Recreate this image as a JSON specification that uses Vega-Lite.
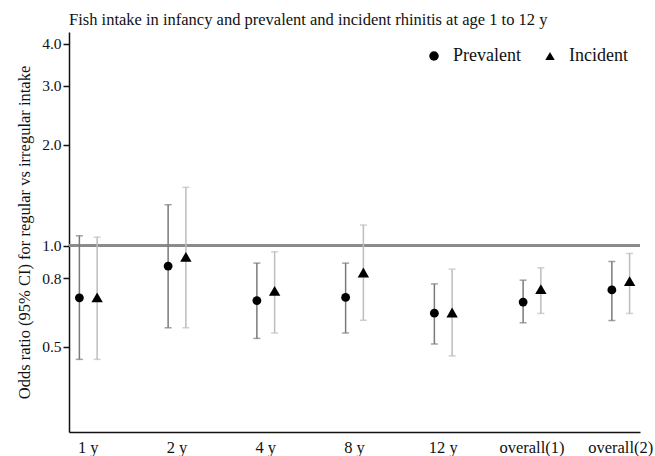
{
  "$schema": "https://vega.github.io/schema/vega-lite/v6.json",
  "width": 571,
  "height": 400,
  "autosize": {"type": "none"},
  "padding": {"left": 69, "top": 32, "right": 15, "bottom": 24},
  "title": {
    "text": "Fish intake in infancy and prevalent and incident rhinitis at age 1 to 12 y",
    "anchor": "start",
    "frame": "group",
    "font": "Liberation Serif",
    "fontSize": 16.5,
    "fontWeight": "normal",
    "color": "#111",
    "offset": 4
  },
  "config": {
    "view": {"stroke": null},
    "font": "Liberation Serif",
    "axis": {
      "labelFont": "Liberation Serif",
      "titleFont": "Liberation Serif",
      "labelColor": "#111",
      "titleColor": "#111",
      "domainColor": "#111",
      "tickColor": "#111",
      "grid": false
    }
  },
  "data": {
    "values": [
      {"age": "1 y", "series": "Prevalent", "or": 0.700, "lo": 0.459, "hi": 1.071},
      {"age": "1 y", "series": "Incident", "or": 0.702, "lo": 0.459, "hi": 1.061},
      {"age": "2 y", "series": "Prevalent", "or": 0.870, "lo": 0.570, "hi": 1.325},
      {"age": "2 y", "series": "Incident", "or": 0.927, "lo": 0.570, "hi": 1.493},
      {"age": "4 y", "series": "Prevalent", "or": 0.687, "lo": 0.530, "hi": 0.888},
      {"age": "4 y", "series": "Incident", "or": 0.734, "lo": 0.550, "hi": 0.960},
      {"age": "8 y", "series": "Prevalent", "or": 0.702, "lo": 0.550, "hi": 0.888},
      {"age": "8 y", "series": "Incident", "or": 0.833, "lo": 0.600, "hi": 1.153},
      {"age": "12 y", "series": "Prevalent", "or": 0.630, "lo": 0.510, "hi": 0.770},
      {"age": "12 y", "series": "Incident", "or": 0.633, "lo": 0.470, "hi": 0.852},
      {"age": "overall(1)", "series": "Prevalent", "or": 0.680, "lo": 0.590, "hi": 0.790},
      {"age": "overall(1)", "series": "Incident", "or": 0.743, "lo": 0.629, "hi": 0.860},
      {"age": "overall(2)", "series": "Prevalent", "or": 0.739, "lo": 0.599, "hi": 0.898},
      {"age": "overall(2)", "series": "Incident", "or": 0.785, "lo": 0.629, "hi": 0.949}
    ]
  },
  "encoding": {
    "x": {
      "field": "age",
      "type": "nominal",
      "sort": ["1 y", "2 y", "4 y", "8 y", "12 y", "overall(1)", "overall(2)"],
      "scale": {"paddingInner": 0.6, "paddingOuter": 0.017},
      "axis": {
        "title": null,
        "ticks": false,
        "labelAngle": 0,
        "labelFontSize": 16.5,
        "labelPadding": 7,
        "domainWidth": 1.5
      }
    },
    "xOffset": {
      "field": "series",
      "type": "nominal",
      "sort": ["Prevalent", "Incident"],
      "scale": {"domain": ["Prevalent", "Incident"], "paddingInner": 0, "paddingOuter": 0}
    }
  },
  "layer": [
    {
      "mark": {"type": "rule", "color": "#8a8a8a", "strokeWidth": 2},
      "encoding": {
        "x": null,
        "xOffset": null,
        "y": {"datum": 1, "type": "quantitative"}
      }
    },
    {
      "mark": {"type": "rule", "strokeWidth": 1.5},
      "encoding": {
        "y": {
          "field": "lo",
          "type": "quantitative",
          "scale": {"type": "log", "domain": [0.279, 4.33], "nice": false},
          "axis": {
            "title": "Odds ratio (95% CI) for regular vs irregular intake",
            "titleFontSize": 16.5,
            "titleFontWeight": "normal",
            "titlePadding": 9,
            "values": [0.5, 0.8, 1, 2, 3, 4],
            "format": ".1f",
            "labelFontSize": 15.5,
            "tickSize": 6,
            "tickWidth": 1.5,
            "domainWidth": 1.5,
            "labelPadding": 2
          }
        },
        "y2": {"field": "hi"},
        "color": {"condition": {"test": "datum.series === 'Prevalent'", "value": "#7a7a7a"}, "value": "#bdbdbd"}
      }
    },
    {
      "mark": {"type": "tick", "orient": "horizontal", "size": 7, "thickness": 1.5},
      "encoding": {
        "y": {"field": "lo", "type": "quantitative"},
        "color": {"condition": {"test": "datum.series === 'Prevalent'", "value": "#7a7a7a"}, "value": "#bdbdbd"}
      }
    },
    {
      "mark": {"type": "tick", "orient": "horizontal", "size": 7, "thickness": 1.5},
      "encoding": {
        "y": {"field": "hi", "type": "quantitative"},
        "color": {"condition": {"test": "datum.series === 'Prevalent'", "value": "#7a7a7a"}, "value": "#bdbdbd"}
      }
    },
    {
      "transform": [{"filter": "datum.series === 'Prevalent'"}],
      "mark": {"type": "point", "filled": true, "opacity": 1, "color": "black", "size": 78},
      "encoding": {
        "y": {"field": "or", "type": "quantitative"},
        "shape": {
          "field": "series",
          "type": "nominal",
          "scale": {"domain": ["Prevalent", "Incident"], "range": ["circle", "triangle-up"]},
          "legend": {
            "title": null,
            "orient": "none",
            "legendX": 356,
            "legendY": 15,
            "direction": "horizontal",
            "labelFontSize": 18,
            "labelFont": "Liberation Serif",
            "labelColor": "#111",
            "symbolSize": 90,
            "symbolFillColor": "black",
            "symbolStrokeColor": "black",
            "symbolOpacity": 1,
            "labelOffset": 10,
            "columnPadding": 20
          }
        }
      }
    },
    {
      "transform": [{"filter": "datum.series === 'Incident'"}],
      "mark": {"type": "point", "filled": true, "opacity": 1, "color": "black", "size": 130},
      "encoding": {
        "y": {"field": "or", "type": "quantitative"},
        "shape": {"field": "series", "type": "nominal"}
      }
    }
  ]
}
